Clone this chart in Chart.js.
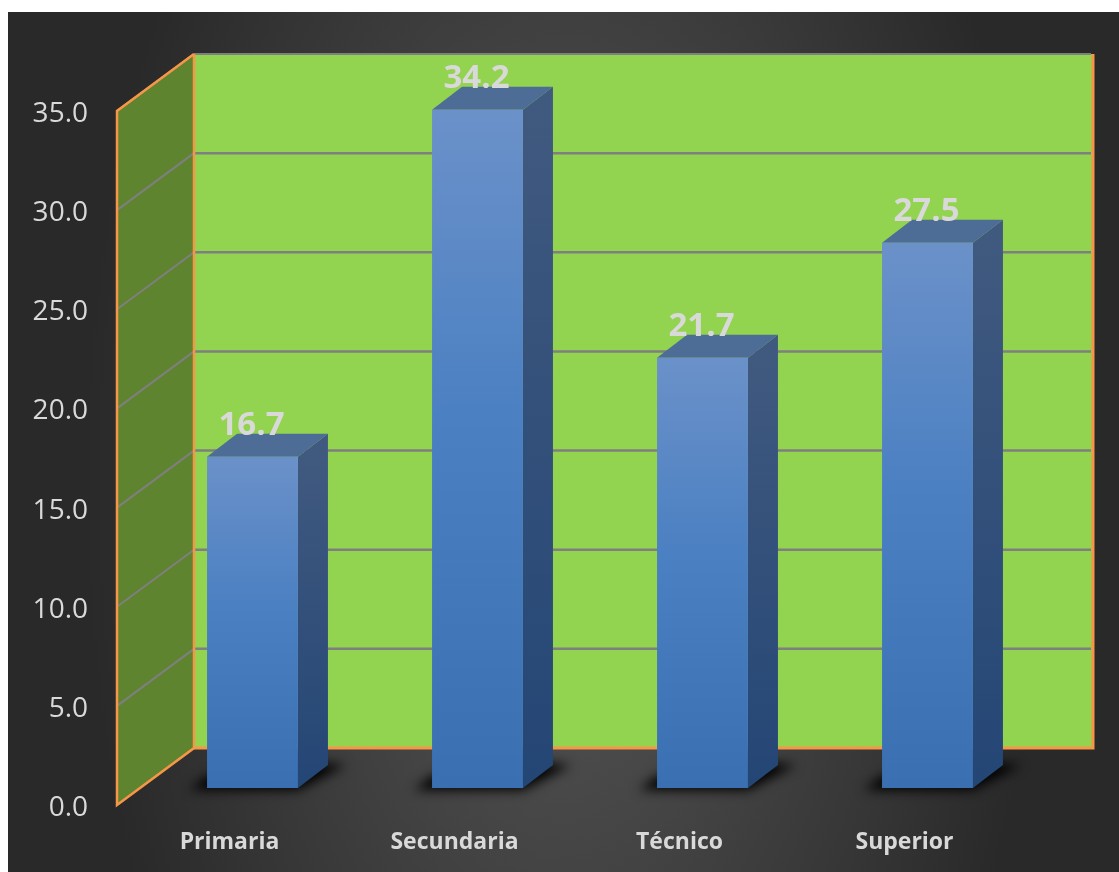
<!DOCTYPE html>
<html>
<head>
<meta charset="utf-8">
<style>
    html, body { margin: 0; padding: 0; background: #fff; overflow: hidden; }
    #card { position: absolute; left: 8px; top: 12px; width: 1111px; height: 860px;
        background: radial-gradient(ellipse 480px 900px at 50% 55%, #585858 0%, #292929 100%); }
    #chart { position: absolute; left: 0; top: 0; }
</style>
<script src="https://cdn.jsdelivr.net/npm/chart.js@4/dist/chart.umd.min.js"></script>
</head>
<body>
<div id="card"></div>
<canvas id="chart" width="1119" height="872"></canvas>
<script>
const categories = ['Primaria', 'Secundaria', 'Técnico', 'Superior'];
const values = [16.7, 34.2, 21.7, 27.5];
const axisMin = 0;
const axisMax = 35;
const axisStep = 5;

// 3D look: offsets from the flat chart area to the walls and to the bar depth
const frontWall = { dx: -23, dy: 17 };
const backWall = { dx: 54, dy: -40, rightDx: 53 };
const barDepth = { dx: 30, dy: -23 };

const wallColor = '#92d350';
const sideColor = '#5f8430';
const edgeColor = '#f79646';
const gridColor = '#7f7f7f';
const textColor = '#d9d9d9';
const fontName = '"Open Sans", sans-serif';

function poly(ctx, pts, fill) {
    ctx.beginPath();
    pts.forEach((p, i) => i ? ctx.lineTo(p[0], p[1]) : ctx.moveTo(p[0], p[1]));
    ctx.closePath();
    ctx.fillStyle = fill;
    ctx.fill();
}

function line(ctx, pts, color, width) {
    ctx.beginPath();
    pts.forEach((p, i) => i ? ctx.lineTo(p[0], p[1]) : ctx.moveTo(p[0], p[1]));
    ctx.strokeStyle = color;
    ctx.lineWidth = width;
    ctx.stroke();
}

const walls3d = {
    id: 'walls3d',
    beforeDatasetsDraw(chart) {
        const { ctx, chartArea: a, scales: { y } } = chart;
        const fx = a.left + frontWall.dx;
        const bx = a.left + backWall.dx;
        const rx = a.right + backWall.rightDx;
        const top = y.getPixelForValue(axisMax);
        const base = y.getPixelForValue(axisMin);
        ctx.save();

        poly(ctx, [[bx, top + backWall.dy], [rx, top + backWall.dy], [rx, base + backWall.dy], [bx, base + backWall.dy]], wallColor);
        poly(ctx, [[fx, top + frontWall.dy], [bx, top + backWall.dy], [bx, base + backWall.dy], [fx, base + frontWall.dy]], sideColor);

        y.ticks.forEach(t => {
            const py = y.getPixelForValue(t.value);
            if (t.value === axisMin) return;
            line(ctx, [[fx, py + frontWall.dy], [bx, py + backWall.dy]], gridColor, 2);
            line(ctx, [[bx, py + backWall.dy], [rx - 2, py + backWall.dy]], gridColor, t.value === axisMax ? 2 : 2.5);
        });

        // orange edges
        line(ctx, [[bx, top + backWall.dy], [fx, top + frontWall.dy], [fx, base + frontWall.dy], [bx, base + backWall.dy], [bx, top + backWall.dy]], edgeColor, 2.5);
        line(ctx, [[bx, base + backWall.dy], [rx, base + backWall.dy], [rx, top + backWall.dy]], edgeColor, 3);

        // bars: floor shadow, then side and top faces
        chart.getDatasetMeta(0).data.forEach(bar => {
            const { x, y: by, base: bb, width } = bar.getProps(['x', 'y', 'base', 'width'], true);
            const l = x - width / 2;
            const r = x + width / 2;

            ctx.save();
            ctx.filter = 'blur(6px)';
            poly(ctx, [[l - 18, bb + 2], [r, bb + 2], [r + barDepth.dx + 18, bb + barDepth.dy], [r, bb + barDepth.dy - 4], [l, bb - 12]], '#000');
            ctx.restore();

            const side = ctx.createLinearGradient(0, by, 0, bb);
            side.addColorStop(0, '#40597f');
            side.addColorStop(1, '#244675');
            poly(ctx, [[r, by], [r + barDepth.dx, by + barDepth.dy], [r + barDepth.dx, bb + barDepth.dy], [r, bb]], side);
            poly(ctx, [[l, by], [l + barDepth.dx, by + barDepth.dy], [r + barDepth.dx, by + barDepth.dy], [r, by]], '#4d6c96');
        });
        ctx.restore();
    },
    afterDatasetsDraw(chart) {
        const { ctx } = chart;
        ctx.save();
        ctx.font = 'bold 33px ' + fontName;
        ctx.fillStyle = textColor;
        ctx.textAlign = 'center';
        ctx.textBaseline = 'middle';
        chart.getDatasetMeta(0).data.forEach((bar, i) => {
            ctx.fillText(values[i].toFixed(1), bar.x - 1, bar.y - 31);
        });
        ctx.restore();
    }
};

new Chart(document.getElementById('chart'), {
    type: 'bar',
    data: {
        labels: categories,
        datasets: [{
            data: values,
            categoryPercentage: 1,
            barPercentage: 0.404,
            borderWidth: 0,
            backgroundColor(c) {
                const { ctx, scales } = c.chart;
                const fallback = '#4a7fc1';
                if (!scales.y || c.raw === undefined) return fallback;
                const y0 = scales.y.getPixelForValue(c.raw);
                const y1 = scales.y.getPixelForValue(axisMin);
                if (!Number.isFinite(y0) || !Number.isFinite(y1)) return fallback;
                const g = ctx.createLinearGradient(0, y0, 0, y1);
                g.addColorStop(0, '#6b91c9');
                g.addColorStop(0.45, '#4b80c2');
                g.addColorStop(1, '#3a70b2');
                return g;
            }
        }]
    },
    options: {
        responsive: false,
        animation: false,
        devicePixelRatio: 1,
        layout: { padding: { top: 94, right: 79, bottom: 0, left: 0 } },
        plugins: { legend: { display: false }, tooltip: { enabled: false } },
        scales: {
            x: {
                grid: { display: false },
                border: { display: false },
                afterFit(s) { s.height = 84; },
                ticks: {
                    color: textColor,
                    font: { family: fontName, size: 23, weight: 'bold' },
                    padding: 33,
                    labelOffset: -23,
                    maxRotation: 0,
                    autoSkip: false
                }
            },
            y: {
                min: axisMin,
                max: axisMax,
                grid: { display: false },
                border: { display: false },
                afterFit(s) { s.width = 140; },
                ticks: {
                    stepSize: axisStep,
                    color: textColor,
                    font: { family: fontName, size: 28 },
                    padding: 44,
                    labelOffset: 20,
                    callback: v => v.toFixed(1)
                }
            }
        }
    },
    plugins: [walls3d]
});
</script>
</body>
</html>
